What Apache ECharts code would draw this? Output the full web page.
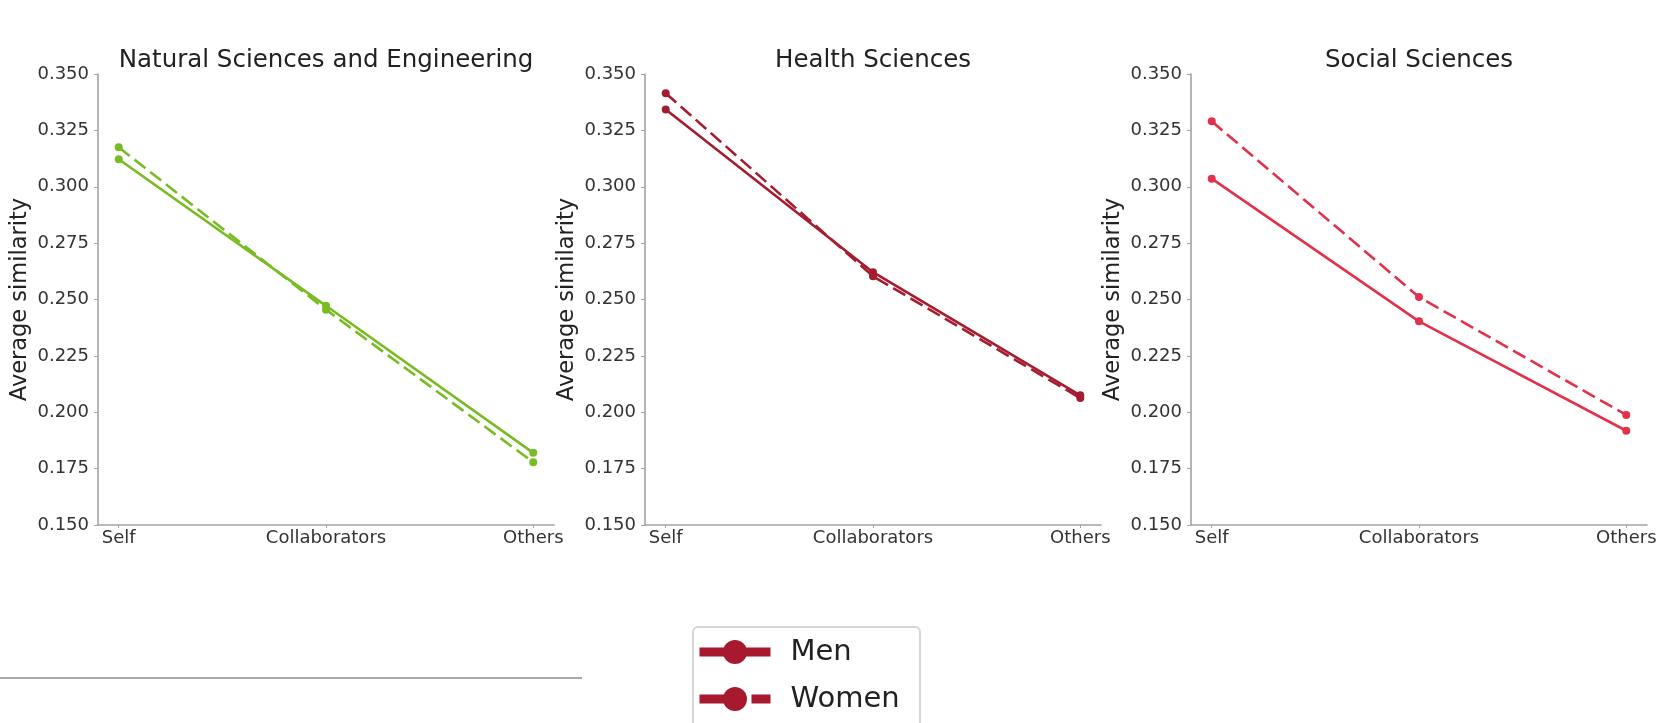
<!DOCTYPE html>
<html>
<head>
<meta charset="utf-8">
<script src="https://cdn.jsdelivr.net/npm/echarts@6/dist/echarts.min.js"></script>
<style>
html,body{margin:0;padding:0;background:#fff;}
#chart{width:1669px;height:723px;}
</style>
</head>
<body>
<div id="chart"></div>
<script>
// ---- data ----
const categories = ['Self', 'Collaborators', 'Others'];
const panelTitles = ['Natural Sciences and Engineering', 'Health Sciences', 'Social Sciences'];
const seriesNames = ['Men', 'Women'];
const nseMen   = [0.3122, 0.2472, 0.1820];
const nseWomen = [0.3175, 0.2455, 0.1778];
const hsMen    = [0.3343, 0.2621, 0.2075];
const hsWomen  = [0.3415, 0.2603, 0.2063];
const ssMen    = [0.3036, 0.2403, 0.1918];
const ssWomen  = [0.3290, 0.2511, 0.1988];
const yMin = 0.15, yMax = 0.35, yStep = 0.025;
const yAxisLabel = 'Average similarity';

// ---- style ----
const FONT = 'DejaVu Sans';
const panelColors = ['#78bb22', '#a51c30', '#e2324b'];
const legendColor = '#a6192e';
const axisGray = '#a3a3a3';
const textGray = '#333333';
const grids = [
  {left: 98,  top: 74, width: 456, height: 451},
  {left: 645, top: 74, width: 456, height: 451},
  {left: 1191, top: 74, width: 456, height: 451}
];
const panelData = [[nseMen, nseWomen], [hsMen, hsWomen], [ssMen, ssWomen]];

const option = {
  animation: false,
  backgroundColor: '#ffffff',
  title: panelTitles.map((t, i) => ({
    text: t,
    left: grids[i].left + grids[i].width / 2,
    top: 48,
    textAlign: 'center',
    padding: 0,
    textStyle: {fontFamily: FONT, fontSize: 24.5, fontWeight: 'normal', color: '#222'}
  })),
  grid: grids.map(g => Object.assign({containLabel: false}, g)),
  xAxis: grids.map((g, i) => ({
    type: 'value',
    gridIndex: i,
    min: -0.1,
    max: 2.1,
    splitLine: {show: false},
    axisLine: {show: true, onZero: false, lineStyle: {color: axisGray, width: 1.6}},
    axisTick: {show: true, length: 3, customValues: [0, 1, 2], lineStyle: {color: axisGray}},
    axisLabel: {
      customValues: [0, 1, 2],
      margin: 4,
      fontFamily: FONT, fontSize: 18, color: textGray,
      formatter: v => categories[Math.round(v)]
    }
  })),
  yAxis: grids.map((g, i) => ({
    type: 'value',
    gridIndex: i,
    min: yMin,
    max: yMax,
    interval: yStep,
    name: yAxisLabel,
    nameLocation: 'middle',
    nameGap: 66,
    nameTextStyle: {fontFamily: FONT, fontSize: 22.5, color: '#222'},
    splitLine: {show: false},
    axisLine: {show: true, onZero: false, lineStyle: {color: axisGray, width: 1.6}},
    axisTick: {show: true, length: 4, lineStyle: {color: axisGray}},
    axisLabel: {
      margin: 9,
      fontFamily: FONT, fontSize: 18, color: textGray,
      formatter: v => v.toFixed(3)
    }
  })),
  legend: {
    orient: 'vertical',
    left: 695,
    top: 637,
    padding: 0,
    itemWidth: 71,
    itemHeight: 30,
    itemGap: 17,
    textStyle: {fontFamily: FONT, fontSize: 29, color: '#222', lineHeight: 30, padding: [0, 0, 0, 15]},
    data: [
      {name: 'Men', itemStyle: {color: legendColor}, lineStyle: {color: legendColor, width: 9, type: 'solid'}},
      {name: 'Women', itemStyle: {color: legendColor}, lineStyle: {color: legendColor, width: 9, type: [36, 16]}}
    ]
  },
  graphic: [
    {type: 'rect', z: 1, shape: {x: 693, y: 627, width: 227, height: 130, r: 5},
     style: {fill: '#ffffff', stroke: '#d6d6d6', lineWidth: 2}},
    {type: 'line', z: 1, shape: {x1: 0, y1: 678, x2: 582, y2: 678},
     style: {stroke: '#a8a8a8', lineWidth: 2}}
  ],
  series: []
};

panelData.forEach((pair, i) => {
  pair.forEach((vals, k) => {
    option.series.push({
      type: 'line',
      name: seriesNames[k],
      xAxisIndex: i,
      yAxisIndex: i,
      data: vals.map((v, j) => [j, v]),
      symbol: 'circle',
      symbolSize: 8,
      itemStyle: {color: panelColors[i]},
      lineStyle: {color: panelColors[i], width: 2.6, type: k === 0 ? 'solid' : [14, 6]},
      emphasis: {disabled: true}
    });
  });
});

const chart = echarts.init(document.getElementById('chart'), null, {renderer: 'canvas'});
chart.setOption(option);
</script>
</body>
</html>
